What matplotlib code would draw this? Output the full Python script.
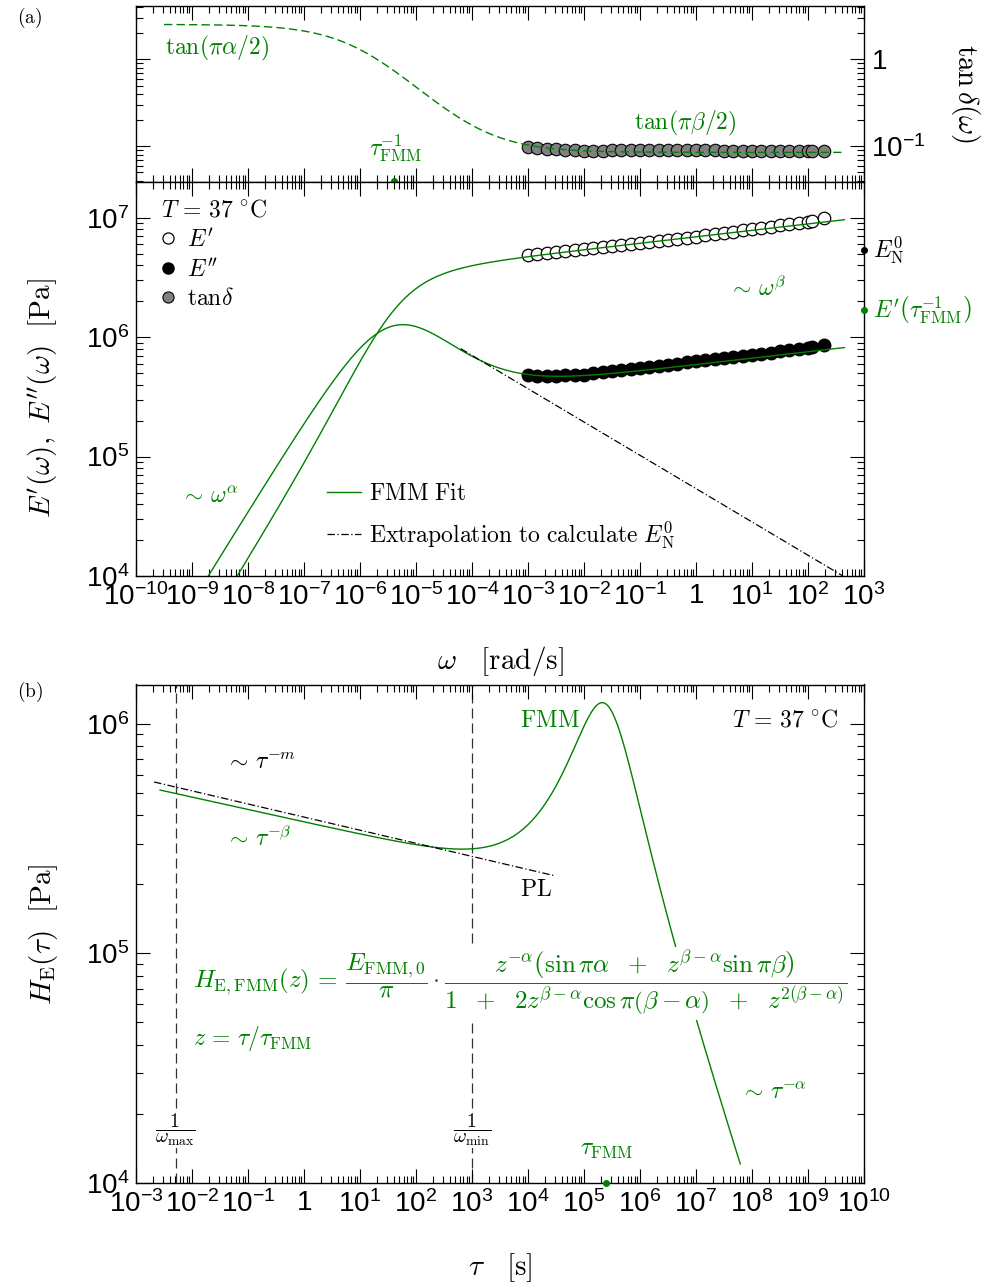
import numpy as np
import matplotlib
matplotlib.use("Agg")
import matplotlib.pyplot as plt
from matplotlib.ticker import LogLocator, FuncFormatter, NullFormatter
from matplotlib.lines import Line2D

plt.rcParams['font.family'] = ['Liberation Sans', 'DejaVu Sans']
plt.rcParams['mathtext.fontset'] = 'cm'

green = '#008000'

# measured frequency sweep (rad/s) and moduli (Pa)
omega = [1.00e-3, 1.47e-3, 2.15e-3, 3.16e-3, 4.64e-3, 6.81e-3,
         1.00e-2, 1.47e-2, 2.15e-2, 3.16e-2, 4.64e-2, 6.81e-2,
         1.00e-1, 1.47e-1, 2.15e-1, 3.16e-1, 4.64e-1, 6.81e-1,
         1.00, 1.47, 2.15, 3.16, 4.64, 6.81,
         10.0, 14.7, 21.5, 31.6, 46.4, 68.1,
         100.0, 120.0, 195.0]
E_storage = [4.88e6, 4.97e6, 5.07e6, 5.16e6, 5.26e6, 5.37e6,
             5.47e6, 5.57e6, 5.69e6, 5.79e6, 5.90e6, 6.03e6,
             6.14e6, 6.25e6, 6.38e6, 6.50e6, 6.64e6, 6.79e6,
             6.95e6, 7.13e6, 7.29e6, 7.47e6, 7.66e6, 7.83e6,
             8.02e6, 8.22e6, 8.41e6, 8.61e6, 8.83e6, 9.04e6,
             9.27e6, 9.44e6, 9.89e6]
E_loss = [4.79e5, 4.76e5, 4.75e5, 4.76e5, 4.79e5, 4.82e5,
          4.86e5, 4.97e5, 5.07e5, 5.18e5, 5.30e5, 5.41e5,
          5.52e5, 5.64e5, 5.75e5, 5.89e5, 6.01e5, 6.14e5,
          6.27e5, 6.40e5, 6.53e5, 6.65e5, 6.79e5, 6.92e5,
          7.06e5, 7.23e5, 7.41e5, 7.59e5, 7.78e5, 7.96e5,
          8.15e5, 8.28e5, 8.61e5]
tan_delta = np.array(E_loss) / np.array(E_storage)

# FMM fit parameters
alpha = 0.76
beta = 0.054
tau_fmm = 2.5e5
E_fmm0 = 3.55e6
E_N0 = 5.37e6

# straight extrapolations
extrap_w = [6.3e-5, 4.2e2]
extrap_E = [8.0e5, 1.0e4]
pl_tau = [2.1e-3, 2.9e4]
pl_H = [5.57e5, 2.18e5]


def fmm_modulus(w):
    x = 1j * w * tau_fmm
    return E_fmm0 * x**alpha / (1 + x**(alpha - beta))


def fmm_spectrum(t):
    z = t / tau_fmm
    u = z**(beta - alpha)
    num = z**(-alpha) * (np.sin(np.pi * alpha) + u * np.sin(np.pi * beta))
    den = 1 + 2 * u * np.cos(np.pi * (beta - alpha)) + u**2
    return E_fmm0 / np.pi * num / den


def dec_fmt(v, pos):
    e = int(round(np.log10(v)))
    if e == 0:
        return r'$\mathdefault{1}$'
    return r'$\mathdefault{10^{%d}}$' % e


def style(ax):
    ax.set_xscale('log')
    ax.set_yscale('log')
    for a in (ax.xaxis, ax.yaxis):
        a.set_major_locator(LogLocator(base=10, numticks=60))
        a.set_minor_locator(LogLocator(base=10, subs=np.arange(2, 10), numticks=60))
        a.set_major_formatter(FuncFormatter(dec_fmt))
        a.set_minor_formatter(NullFormatter())
    ax.tick_params(which='both', direction='in', top=True, right=True, width=0.8, pad=5)
    ax.tick_params(which='major', length=10, labelsize=20)
    ax.tick_params(which='minor', length=5)
    for s in ax.spines.values():
        s.set_linewidth(1.0)


fig = plt.figure(figsize=(9.92, 12.83), dpi=100)
L, W = 136 / 992, 728 / 992
ax_t = fig.add_axes([L, 1 - 181.5 / 1283, W, 175.5 / 1283])
ax_m = fig.add_axes([L, 1 - 576 / 1283, W, 394.5 / 1283])
ax_b = fig.add_axes([L, 1 - 1183 / 1283, W, 498.5 / 1283])
for ax in (ax_t, ax_m, ax_b):
    style(ax)

w_fit = np.logspace(-9.5, 2.65, 500)
Efit = fmm_modulus(w_fit)

# ---- (a) top: tan delta
ax_t.plot(omega, tan_delta, 'o', ms=9, mfc='#808080', mec='black', mew=0.8, zorder=2)
ax_t.plot(w_fit, Efit.imag / Efit.real, color=green, lw=1.0, ls=(0, (6, 3)), zorder=3)
ax_t.plot([1 / tau_fmm], [0.0393], 'o', color=green, ms=4, clip_on=False, zorder=5)
ax_t.set_xlim(1e-10, 1e3)
ax_t.set_ylim(0.0393, 4.11)
ax_t.tick_params(labelbottom=False, labelleft=False, labelright=True)
ax_t.text(10**-9.48, 1.35, r'$\tan(\pi\alpha/2)$', color=green, fontsize=17, va='center')
ax_t.text(10**-5.375, 0.095, r'$\tau_{\mathrm{FMM}}^{-1}$', color=green, fontsize=17,
          ha='center', va='center')
ax_t.text(10**-0.196, 0.184, r'$\tan(\pi\beta/2)$', color=green, fontsize=17,
          ha='center', va='center')
ax_t.text(1.14, 0.5, r'$\tan\delta(\omega)$', transform=ax_t.transAxes, rotation=-90,
          fontsize=21, ha='center', va='center')
fig.text(30 / 992, 1 - 18 / 1283, r'$\mathrm{(a)}$', fontsize=14, ha='center', va='center')

# ---- (a) middle: moduli
ax_m.plot(omega, E_storage, 'o', ms=9, mfc='white', mec='black', mew=0.9, zorder=2)
ax_m.plot(omega, E_loss, 'o', ms=9, mfc='black', mec='black', zorder=2)
ax_m.plot(w_fit, Efit.real, color=green, lw=1.0, zorder=3)
ax_m.plot(w_fit, Efit.imag, color=green, lw=1.0, zorder=3)
ax_m.plot(extrap_w, extrap_E, color='black', lw=0.9, ls=(0, (6, 2, 1, 2)), zorder=3)
ax_m.set_xlim(1e-10, 1e3)
ax_m.set_ylim(1e4, 2.01e7)
ax_m.plot([1e3], [E_N0], 'o', color='black', ms=4, clip_on=False, zorder=5)
ax_m.plot([1e3], [fmm_modulus(1 / tau_fmm).real], 'o', color=green, ms=4, clip_on=False, zorder=5)
ax_m.text(10**3.16, E_N0, r'$E_{\mathrm{N}}^{0}$', fontsize=17, va='center')
ax_m.text(10**3.16, fmm_modulus(1 / tau_fmm).real, r"$E'\left(\tau_{\mathrm{FMM}}^{-1}\right)$",
          color=green, fontsize=17, va='center')
ax_m.text(10**-9.21, 10**4.663, r'$\sim\,\omega^{\alpha}$', color=green, fontsize=17, va='center')
ax_m.text(10**0.571, 10**6.403, r'$\sim\,\omega^{\beta}$', color=green, fontsize=17, va='center')

h_e1 = Line2D([], [], marker='o', ls='none', ms=8, mfc='white', mec='black', mew=0.9, label=r"$E'$")
h_e2 = Line2D([], [], marker='o', ls='none', ms=8, mfc='black', mec='black', label=r"$E''$")
h_td = Line2D([], [], marker='o', ls='none', ms=8, mfc='#808080', mec='black', mew=0.8,
              label=r'$\tan\!\delta$')
leg1 = ax_m.legend(handles=[h_e1, h_e2, h_td], loc='upper left', bbox_to_anchor=(0.034, 0.955),
                   frameon=False, title=r'$T\,=\,37\ ^{\circ}\mathrm{C}$', fontsize=17,
                   title_fontsize=17, handlelength=0.6, handletextpad=0.5, labelspacing=0.3,
                   borderpad=0, borderaxespad=0, alignment='left')
ax_m.add_artist(leg1)
h_fit = Line2D([], [], color=green, lw=1.0, label=r'$\mathrm{FMM\ Fit}$')
h_ex = Line2D([], [], color='black', lw=0.9, ls=(0, (6, 2, 1, 2)),
              label=r'$\mathrm{Extrapolation\ to\ calculate}\ E_{\mathrm{N}}^{0}$')
ax_m.legend(handles=[h_fit, h_ex], loc='center left', bbox_to_anchor=(0.263, 0.150),
            frameon=False, fontsize=17, handlelength=1.4, handletextpad=0.35,
            labelspacing=0.6, borderpad=0, borderaxespad=0)
ax_m.set_xlabel(r'$\omega\ \ \ [\mathrm{rad/s}]$', fontsize=21, labelpad=24)
ax_m.set_ylabel(r"$E'(\omega),\ E''(\omega)\ \ [\mathrm{Pa}]$", fontsize=21)
ax_m.yaxis.set_label_coords(-0.105, 0.45)

# ---- (b) relaxation spectrum
t_fit = np.logspace(-2.57, 7.79, 500)
ax_b.plot(t_fit, fmm_spectrum(t_fit), color=green, lw=1.0, zorder=2)
ax_b.plot(pl_tau, pl_H, color='black', lw=0.9, ls=(0, (6, 2, 1, 2)), zorder=2)
for tv in (1 / max(omega), 1 / min(omega)):
    ax_b.axvline(tv, color='#333333', lw=0.9, ls=(0, (8, 4)), zorder=1)
ax_b.set_xlim(1e-3, 1e10)
ax_b.set_ylim(1e4, 1.48e6)
ax_b.plot([tau_fmm], [1e4], 'o', color=green, ms=4, clip_on=False, zorder=5)
ax_b.text(10**4.93, 10**6.013, r'$\mathrm{FMM}$', color=green, fontsize=17, ha='right', va='center')
ax_b.text(10**9.536, 10**6.013, r'$T\,=\,37\ ^{\circ}\mathrm{C}$', fontsize=17, ha='right', va='center')
ax_b.text(10**-1.41, 10**5.83, r'$\sim\,\tau^{-m}$', fontsize=17, va='center')
ax_b.text(10**-1.41, 10**5.50, r'$\sim\,\tau^{-\beta}$', color=green, fontsize=17, va='center')
ax_b.text(10**3.857, 10**5.274, r'$\mathrm{PL}$', fontsize=17, va='center')
ax_b.text(10**-1.98, 10**4.87,
          r'$H_{\mathrm{E,FMM}}(z)\,=\,\dfrac{E_{\mathrm{FMM,0}}}{\pi}\cdot'
          r'\dfrac{z^{-\alpha}\left(\sin\pi\alpha\ \ +\ \ z^{\beta-\alpha}\sin\pi\beta\right)}'
          r'{1\ \ +\ \ 2z^{\beta-\alpha}\cos\pi\left(\beta-\alpha\right)\ \ +\ \ z^{2(\beta-\alpha)}}$',
          color=green, fontsize=18, va='center', zorder=4,
          bbox=dict(facecolor='white', edgecolor='none', pad=1))
ax_b.text(10**-1.98, 10**4.63, r'$z\,=\,\tau/\tau_{\mathrm{FMM}}$', color=green, fontsize=17, va='center')
ax_b.text(10**7.79, 10**4.391, r'$\sim\,\tau^{-\alpha}$', color=green, fontsize=17, va='center')
ax_b.text(1 / max(omega), 10**4.23, r'$\dfrac{1}{\omega_{\mathrm{max}}}$', fontsize=14,
          ha='center', va='center', zorder=4, bbox=dict(facecolor='white', edgecolor='none', pad=0))
ax_b.text(1 / min(omega), 10**4.23, r'$\dfrac{1}{\omega_{\mathrm{min}}}$', fontsize=14,
          ha='center', va='center', zorder=4, bbox=dict(facecolor='white', edgecolor='none', pad=0))
ax_b.text(tau_fmm, 10**4.143, r'$\tau_{\mathrm{FMM}}$', color=green, fontsize=17, ha='center', va='center')
ax_b.set_xlabel(r'$\tau\ \ \ [\mathrm{s}]$', fontsize=21, labelpad=24)
ax_b.set_ylabel(r'$H_{\mathrm{E}}(\tau)\ \ [\mathrm{Pa}]$', fontsize=21)
ax_b.yaxis.set_label_coords(-0.105, 0.5)
fig.text(30 / 992, 1 - 692 / 1283, r'$\mathrm{(b)}$', fontsize=14, ha='center', va='center')

fig.savefig('out.png', dpi=100)
